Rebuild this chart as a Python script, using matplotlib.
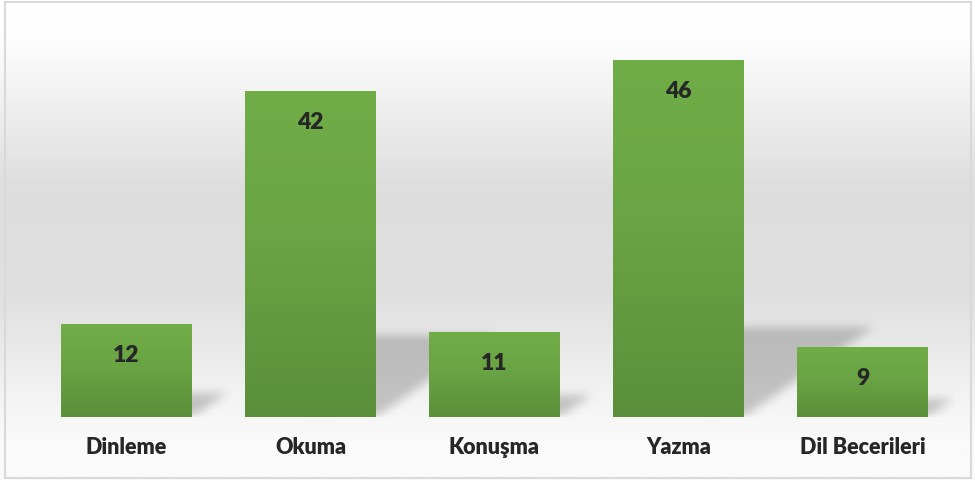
import numpy as np
import matplotlib.pyplot as plt
from matplotlib.colors import LinearSegmentedColormap
from matplotlib.path import Path
from matplotlib.patches import Rectangle

categories = ['Dinleme', 'Okuma', 'Konuşma', 'Yazma', 'Dil Becerileri']
values = [12, 42, 11, 46, 9]

plt.rcParams['font.family'] = ['Lato', 'DejaVu Sans']
text_color = '#262626'

fig = plt.figure(figsize=(9.75, 4.81), dpi=100)

# background gradient for the whole chart area
bg = fig.add_axes([0, 0, 1, 1], zorder=-2)
bg_cmap = LinearSegmentedColormap.from_list('bg', [
    (0.0, '#ffffff'), (0.08, '#fefefe'), (0.40, '#dddddd'), (0.62, '#e0e0e0'),
    (0.84, '#f4f4f4'), (0.92, '#fafafa'), (1.0, '#fafafa')])
bg.imshow(np.linspace(0, 1, 256).reshape(-1, 1), cmap=bg_cmap, aspect='auto',
          extent=(0, 1, 0, 1), origin='upper')
bg.set_xlim(0, 1)
bg.set_ylim(0, 1)
bg.axis('off')
bg.add_patch(Rectangle((5 / 975, 2.5 / 481), 966 / 975, 476 / 481, fill=False,
                       edgecolor='#d9d9d9', linewidth=1.5))

ax = fig.add_axes([34.5 / 975, 63 / 481, 920 / 975, 388 / 481])
ax.patch.set_alpha(0)

x = np.arange(len(categories))
bars = ax.bar(x, values, width=131 / 184, color='none', zorder=3)

xlim = (-0.5, len(categories) - 0.5)
ylim = (0, 50)

# perspective shadows, blurred
W, H = 920, 388
gx = np.linspace(xlim[0], xlim[1], W)
gy = np.linspace(ylim[0], ylim[1], H)
XX, YY = np.meshgrid(gx, gy)
pts = np.column_stack([XX.ravel(), YY.ravel()])
mask = np.zeros(H * W)
for b in bars:
    x0, x1, h = b.get_x(), b.get_x() + b.get_width(), b.get_height()
    dx, dy = h * 0.0152, h * 0.25
    poly = Path([(x0, 0), (x1, 0), (x1 + dx, dy), (x0 + dx, dy), (x0, 0)])
    mask = np.maximum(mask, poly.contains_points(pts).astype(float))
mask = mask.reshape(H, W)
k = np.ones(9) / 9
for _ in range(3):
    mask = np.apply_along_axis(lambda r: np.convolve(r, k, mode='same'), 1, mask)
    mask = np.apply_along_axis(lambda c: np.convolve(c, k, mode='same'), 0, mask)
shadow = np.zeros((H, W, 4))
shadow[..., :3] = 0.35
shadow[..., 3] = mask * 0.32
ax.imshow(shadow, extent=(*xlim, *ylim), origin='lower', aspect='auto', zorder=1)

# gradient fill for bars
bar_cmap = LinearSegmentedColormap.from_list('bar', [
    (0.0, '#5b8f3b'), (0.55, '#6aa444'), (1.0, '#70ad47')])
grad = np.linspace(0, 1, 256).reshape(-1, 1)
for b, v in zip(bars, values):
    x0, w, h = b.get_x(), b.get_width(), b.get_height()
    im = ax.imshow(grad, cmap=bar_cmap, extent=(x0, x0 + w, 0, h), origin='lower',
                   aspect='auto', zorder=2)
    im.set_clip_path(b)
    ax.annotate(str(v), (b.get_x() + w / 2, h), xytext=(0, -22),
                textcoords='offset points', ha='center', va='center',
                fontsize=16.5, fontweight='heavy', color=text_color, zorder=4)

ax.set_xlim(*xlim)
ax.set_ylim(*ylim)
ax.set_xticks(x)
ax.set_xticklabels(categories, fontsize=15.5, fontweight='heavy', color=text_color)
ax.tick_params(axis='x', length=0, pad=14)
ax.set_yticks([])
for s in ax.spines.values():
    s.set_visible(False)

fig.savefig('out.png', dpi=100)
